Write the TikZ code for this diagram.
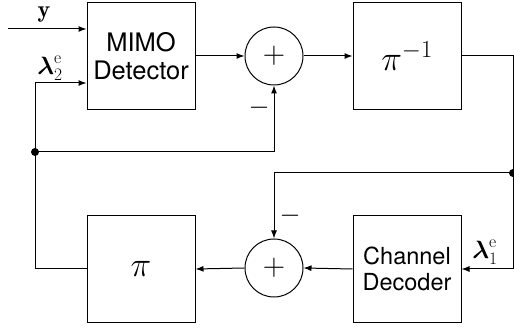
\RequirePackage{fix-cm}
\documentclass[tikz,border=0pt]{standalone}
\usepackage{amsmath}
\usepackage{fontspec}
\setsansfont{TeX Gyre Heros}
\usetikzlibrary{arrows.meta}
\tikzset{
  blk/.style={draw, line width=1pt, minimum width=108pt, minimum height=107pt, inner sep=0pt, align=center},
  sumc/.style={draw, circle, line width=1pt, minimum size=58pt, inner sep=0pt},
  arr/.style={line width=1pt, -{Latex[length=8pt,width=6pt]}},
  dotn/.style={circle, fill, inner sep=0pt, minimum size=8pt},
  lbl/.style={inner sep=0pt},
}
\begin{document}
\begin{tikzpicture}[x=1pt,y=-1pt]
\useasboundingbox (0,0) rectangle (514,328);
\node[blk, font=\sffamily\fontsize{25.5}{28}\selectfont] (det) at (141,56) {MIMO\\Detector};
\node[blk] (pinv) at (407,56) {\fontsize{35}{38}\selectfont$\pi^{-1}$};
\node[blk, font=\sffamily\fontsize{23.5}{26}\selectfont] (dec) at (407,269) {Channel\\Decoder};
\node[blk] (pi) at (141,269) {\fontsize{35}{38}\selectfont$\pi$};
\node[sumc] (s1) at (274,56) {\fontsize{31}{32}\selectfont$+$};
\node[sumc] (s2) at (274,268) {\fontsize{31}{32}\selectfont$+$};

\coordinate (yin) at (8,29);
\coordinate (c1) at (35,269);
\coordinate (c2) at (35,83);
\coordinate (c3) at (513,56);
\coordinate (c4) at (513,269);
\node[dotn] (d1) at (35,152) {};
\node[dotn] (d2) at (513,173) {};

\draw[arr] (yin) -- (yin -| det.west);
\draw[arr] (pi.west) -- (c1) -- (c2) -- (c2 -| det.west);
\draw[arr] (d1.center) -| (s1.south);
\draw[arr] (det.east) -- (s1.west);
\draw[arr] (s1.east) -- (pinv.west);
\draw[arr] (pinv.east) -- (c3) -- (c4) -- (dec.east);
\draw[arr] (d2.center) -| (s2.north);
\draw[arr] (dec.west) -- (s2.east);
\draw[arr] (s2.west) -- (pi.east);

\node[lbl] (ly) at (44,15) {\fontsize{24}{26}\selectfont$\mathbf{y}$};
\node[lbl] (l2) at (50,68) {\fontsize{25}{28}\selectfont$\boldsymbol{\lambda}_2^{\mathrm{e}}$};
\node[lbl] (l1) at (485,252) {\fontsize{25}{28}\selectfont$\boldsymbol{\lambda}_1^{\mathrm{e}}$};
\node[lbl] (m1) at (259,108) {\fontsize{27}{28}\selectfont$-$};
\node[lbl] (m2) at (290,216) {\fontsize{27}{28}\selectfont$-$};
\end{tikzpicture}
\end{document}
